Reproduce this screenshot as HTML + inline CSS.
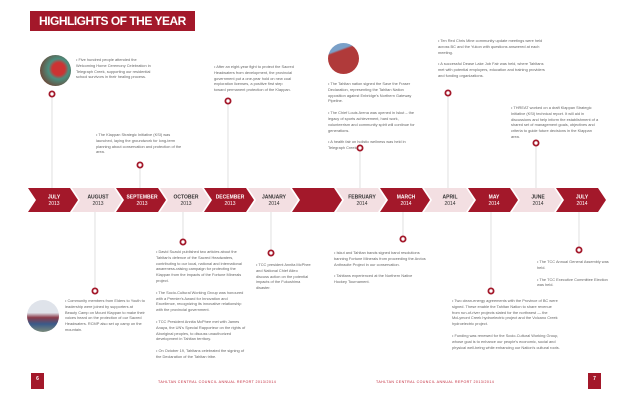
<!DOCTYPE html>
<html><head><meta charset="utf-8">
<style>
body{margin:0;width:640px;height:400px;background:#fff;overflow:hidden;font-family:"Liberation Sans",sans-serif;position:relative}
.title{position:absolute;left:30px;top:11px;width:165px;height:20px;background:#a3182a;color:#fff;font-weight:bold;font-size:12px;line-height:20px;padding-left:9px;box-sizing:border-box;letter-spacing:-0.5px;white-space:nowrap;overflow:hidden}
.txt{position:absolute;font-size:3.9px;line-height:5.8px;color:#666}
.txt p{margin:0 0 6px 0}
.photo{position:absolute;border-radius:50%}
.pg{position:absolute;width:13px;height:16px;background:#a3182a;color:#fff;font-size:5px;font-weight:bold;text-align:center;line-height:12px}
.foot{position:absolute;top:380px;font-size:3.6px;color:#c0283a;letter-spacing:0.4px}
</style></head><body>
<div class="title">HIGHLIGHTS OF THE YEAR</div>
<svg id="tl" width="640" height="400" style="position:absolute;left:0;top:0"></svg>

<div class="photo" style="left:40px;top:55px;width:31px;height:31px;background:radial-gradient(circle at 60% 45%,#c33 0 25%,#4a8f7f 40%,#6b4a3a 75%)"></div>
<div class="photo" style="left:328px;top:43px;width:31px;height:31px;background:linear-gradient(160deg,#7aa0c8 0 25%,#b03a3a 30% 100%)"></div>
<div class="photo" style="left:27px;top:300px;width:32px;height:32px;background:linear-gradient(180deg,#dfe3ea 0 40%,#8a3a4a 55%,#3a5a8a 75%,#7a8a7a 100%)"></div>

<div class="txt" style="left:76px;top:57px;width:78px"><p>• Five hundred people attended the Welcoming Home Ceremony Celebration in Telegraph Creek, supporting our residential school survivors in their healing process.</p></div>
<div class="txt" style="left:96px;top:132px;width:90px"><p>• The Klappan Strategic Initiative (KSI) was launched, laying the groundwork for long-term planning about conservation and protection of the area.</p></div>
<div class="txt" style="left:214px;top:64px;width:80px"><p>• After an eight-year fight to protect the Sacred Headwaters from development, the provincial government put a one-year hold on new coal exploration licenses, a positive first step toward permanent protection of the Klappan.</p></div>
<div class="txt" style="left:328px;top:81px;width:92px"><p>• The Tahltan nation signed the Save the Fraser Declaration, representing the Tahltan Nation opposition against Enbridge's Northern Gateway Pipeline.</p><p>• The Chief Louis Arena was opened in Iskut – the legacy of sports achievement, hard work, volunteerism and community spirit will continue for generations.</p><p>• A health fair on holistic wellness was held in Telegraph Creek.</p></div>
<div class="txt" style="left:438px;top:38px;width:108px"><p>• Ten Red Chris Mine community update meetings were held across BC and the Yukon with questions answered at each meeting.</p><p>• A successful Dease Lake Job Fair was held, where Tahltans met with potential employers, education and training providers and funding organizations.</p></div>
<div class="txt" style="left:511px;top:105px;width:90px"><p>• THREAT worked on a draft Klappan Strategic Initiative (KSI) technical report. It will aid in discussions and help inform the establishment of a shared set of management goals, objectives and criteria to guide future decisions in the Klappan area.</p></div>

<div class="txt" style="left:65px;top:298px;width:80px"><p>• Community members from Elders to Youth to leadership were joined by supporters at Beauty Camp on Mount Klappan to make their voices heard on the protection of our Sacred Headwaters. RCMP also set up camp on the mountain.</p></div>
<div class="txt" style="left:156px;top:249px;width:92px"><p>• David Suzuki published two articles about the Tahltan's defence of the Sacred Headwaters, contributing to our local, national and international awareness-raising campaign for protecting the Klappan from the impacts of the Fortune Minerals project.</p><p>• The Socio-Cultural Working Group was honoured with a Premier's Award for Innovation and Excellence, recognizing its innovative relationship with the provincial government.</p><p>• TCC President Annita McPhee met with James Anaya, the UN's Special Rapporteur on the rights of Aboriginal peoples, to discuss unauthorized development in Tahltan territory.</p><p>• On October 19, Tahltans celebrated the signing of the Declaration of the Tahltan tribe.</p></div>
<div class="txt" style="left:256px;top:262px;width:55px"><p>• TCC president Annita McPhee and National Chief Atleo discuss action on the potential impacts of the Fukushima disaster.</p></div>
<div class="txt" style="left:334px;top:250px;width:92px"><p>• Iskut and Tahltan bands signed band resolutions banning Fortune Minerals from proceeding the Arctos Anthracite Project in our conservation.</p><p>• Tahltans experienced at the Northern Native Hockey Tournament.</p></div>
<div class="txt" style="left:452px;top:298px;width:108px"><p>• Two clean-energy agreements with the Province of BC were signed. These enable the Tahltan Nation to share revenue from run-of-river projects slated for the northwest — the McLymont Creek hydroelectric project and the Volcano Creek hydroelectric project.</p><p>• Funding was renewed for the Socio-Cultural Working Group, whose goal is to enhance our people's economic, social and physical well-being while enhancing our Nation's cultural roots.</p></div>
<div class="txt" style="left:537px;top:259px;width:72px"><p>• The TCC Annual General Assembly was held.</p><p>• The TCC Executive Committee Election was held.</p></div>

<div class="pg" style="left:31px;top:373px">6</div>
<div class="pg" style="left:588px;top:373px">7</div>
<div class="foot" style="left:158px">TAHLTAN CENTRAL COUNCIL ANNUAL REPORT 2013/2014</div>
<div class="foot" style="left:376px">TAHLTAN CENTRAL COUNCIL ANNUAL REPORT 2013/2014</div>

<script>
const months=["JULY","AUGUST","SEPTEMBER","OCTOBER","DECEMBER","JANUARY","","FEBRUARY","MARCH","APRIL","MAY","JUNE","JULY"];
const years=["2013","2013","2013","2013","2013","2014","","2014","2014","2014","2014","2014","2014"];
const markerIndex=[0,2,4,7,9,11,1,3,5,8,10,12];
const markerY=[94,165,101,148,93,143,291,242,253,239,291,250];
const ns="http://www.w3.org/2000/svg";
const svg=document.getElementById('tl');
const X0=28,STEP=44,TOP=188,BOT=212;
function cx(i){return X0+i*STEP+25;}
function mk(t,a){const e=document.createElementNS(ns,t);for(const k in a)e.setAttribute(k,a[k]);svg.appendChild(e);return e;}
markerIndex.forEach((mi,k)=>{
  const x=cx(mi)+(k<6?-1:-2),y=markerY[k];
  const l=mk('line',{x1:x,x2:x,y1:y,y2:y<TOP?TOP:BOT,stroke:'#d8d8d8','stroke-width':0.8});
  
  
  const c=mk('circle',{cx:x,cy:y,r:2.6,fill:'#fff',stroke:'#a3182a','stroke-width':1.8});
  
  
});
months.forEach((m,i)=>{
  const x=X0+i*STEP,dark=i%2===0;
  const p=mk('polygon',{points:`${x},${TOP} ${x+42},${TOP} ${x+50},200 ${x+42},${BOT} ${x},${BOT} ${x+8},200`,fill:dark?'#a3182a':'#f3dfe2'});
  
  
  [m,years[i]].forEach((s,j)=>{
    const t=mk('text',{x:x+26,y:198.5+j*6.5,'text-anchor':'middle','font-size':5,'font-family':'Liberation Sans Narrow, Liberation Sans, sans-serif','font-weight':j?'normal':'bold',fill:dark?'#fff':'#333'});
    t.textContent=s;
    
    
  });
});
</script>
</body></html>
